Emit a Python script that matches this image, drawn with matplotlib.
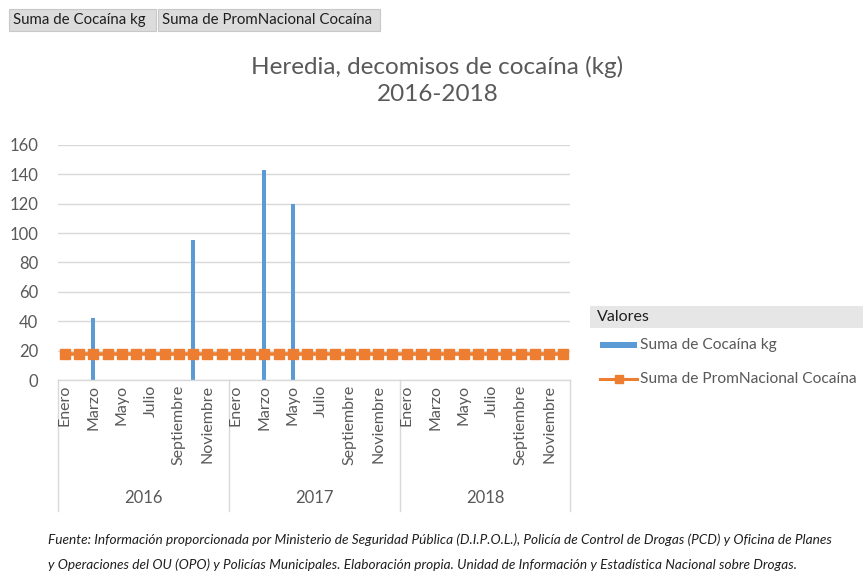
import numpy as np
import matplotlib.pyplot as plt
from matplotlib.patches import Rectangle
from matplotlib.lines import Line2D

# ----------------------------------------------------------
# Datos
# ----------------------------------------------------------

ANIOS = ["2016", "2017", "2018"]

MESES = [
    "Enero", "Febrero", "Marzo", "Abril", "Mayo", "Junio",
    "Julio", "Agosto", "Septiembre", "Octubre", "Noviembre", "Diciembre",
]

COCAINA_KG = [
    0, 0, 42, 0, 0, 0, 0, 0, 0, 95, 0, 0,
    0, 0, 143, 0, 120, 0, 0, 0, 0, 0, 0, 0,
    0, 0, 0, 0, 0, 0, 0, 0, 0, 0, 0, 0,
]

PROM_NACIONAL = [
    17.7, 17.7, 17.7, 17.7, 17.7, 17.7, 17.7, 17.7, 17.7, 17.7, 17.7, 17.7,
    17.7, 17.7, 17.7, 17.7, 17.7, 17.7, 17.7, 17.7, 17.7, 17.7, 17.7, 17.7,
    17.7, 17.7, 17.7, 17.7, 17.7, 17.7, 17.7, 17.7, 17.7, 17.7, 17.7, 17.7,
]

Y_TICKS = [0, 20, 40, 60, 80, 100, 120, 140, 160]

AZUL = "#5B9BD5"
NARANJA = "#ED7D31"
GRIS_TXT = "#595959"
GRIS_LIN = "#D9D9D9"

plt.rcParams["font.family"] = ["Lato", "DejaVu Sans"]

# ----------------------------------------------------------
# Figura
# ----------------------------------------------------------

fig = plt.figure(figsize=(8.63, 5.75), dpi=100)
ax = fig.add_axes([0.067, 0.339, 0.594, 0.409])

n = len(COCAINA_KG)
x = np.arange(n)

cocaina = np.array(COCAINA_KG, dtype=float)
mask = cocaina > 0
ax.bar(x[mask], cocaina[mask], width=0.28, color=AZUL, zorder=2)

ax.plot(
    x, PROM_NACIONAL,
    color=NARANJA, linewidth=2.6,
    marker="s", markersize=6.5,
    zorder=3,
)

ax.set_xlim(-0.5, n - 0.5)
ax.set_ylim(0, 160)
ax.set_yticks(Y_TICKS)
ax.tick_params(axis="y", length=0, labelsize=12, labelcolor=GRIS_TXT, pad=14)
ax.tick_params(axis="x", length=0, labelbottom=False)
ax.grid(axis="y", color=GRIS_LIN, linewidth=1, zorder=0)

for s in ["top", "right", "left", "bottom"]:
    ax.spines[s].set_visible(False)

# eje de categorias de dos niveles
trans = ax.get_xaxis_transform()
ax.plot([-0.5, n - 0.5], [0, 0], color=GRIS_LIN, lw=1,
        transform=trans, clip_on=False)

for k in range(len(ANIOS) + 1):
    xb = -0.5 + 12 * k
    ax.plot([xb, xb], [0, -0.555], color=GRIS_LIN, lw=1,
            transform=trans, clip_on=False)

for i in range(n):
    if i % 2 == 0:
        ax.text(i, -0.02, MESES[i % 12], rotation=90,
                ha="center", va="top", fontsize=11.5,
                color=GRIS_TXT, transform=trans)

for k, anio in enumerate(ANIOS):
    ax.text(12 * k + 5.5, -0.5, anio, ha="center", va="center",
            fontsize=12, color=GRIS_TXT, transform=trans)

# ----------------------------------------------------------
# Titulo
# ----------------------------------------------------------

fig.text(0.507, 0.86, "Heredia, decomisos de cocaína (kg)\n2016-2018",
         ha="center", va="center", fontsize=17.5, color=GRIS_TXT,
         linespacing=1.3)

# ----------------------------------------------------------
# Botones de campo
# ----------------------------------------------------------

def boton(x0, ancho, texto):
    fig.patches.append(Rectangle(
        (x0 / 863, 1 - 31 / 575), ancho / 863, 22 / 575,
        transform=fig.transFigure, facecolor="#DCDCDC",
        edgecolor="#C8C8C8", linewidth=0.8,
    ))
    fig.text((x0 + 4) / 863, 1 - 20 / 575, texto, ha="left",
             va="center", fontsize=10.8, color="#1F1F1F")

boton(9, 147, "Suma de Cocaína kg")
boton(158, 222, "Suma de PromNacional Cocaína")

# ----------------------------------------------------------
# Leyenda
# ----------------------------------------------------------

fig.patches.append(Rectangle(
    (590 / 863, 1 - 328 / 575), 273 / 863, 22 / 575,
    transform=fig.transFigure, facecolor="#E6E6E6", edgecolor="none",
))
fig.text(597 / 863, 1 - 317 / 575, "Valores", ha="left", va="center",
         fontsize=11.5, color="#1F1F1F")

fig.patches.append(Rectangle(
    (600 / 863, 1 - 348 / 575), 37 / 863, 6 / 575,
    transform=fig.transFigure, facecolor=AZUL, edgecolor="none",
))
fig.text(640 / 863, 1 - 345 / 575, "Suma de Cocaína kg", ha="left",
         va="center", fontsize=11.2, color=GRIS_TXT)

fig.lines.append(Line2D(
    [600 / 863, 637 / 863], [1 - 379 / 575, 1 - 379 / 575],
    transform=fig.transFigure, color=NARANJA, linewidth=2.2,
))
fig.lines.append(Line2D(
    [618.5 / 863], [1 - 379 / 575], transform=fig.transFigure,
    color=NARANJA, marker="s", markersize=6, linestyle="none",
))
fig.text(640 / 863, 1 - 379 / 575, "Suma de PromNacional Cocaína",
         ha="left", va="center", fontsize=11.2, color=GRIS_TXT)

# ----------------------------------------------------------
# Fuente
# ----------------------------------------------------------

fig.text(48 / 863, 1 - 540 / 575,
         "Fuente: Información proporcionada por Ministerio de Seguridad Pública "
         "(D.I.P.O.L.), Policía de Control de Drogas (PCD) y Oficina de Planes",
         ha="left", va="center", fontsize=9.8, style="italic", color="#1F1F1F")
fig.text(48 / 863, 1 - 565 / 575,
         "y Operaciones del OU (OPO) y Policías Municipales. Elaboración propia. "
         "Unidad de Información y Estadística Nacional sobre Drogas.",
         ha="left", va="center", fontsize=9.8, style="italic", color="#1F1F1F")

fig.savefig("out.png", dpi=100)
plt.close(fig)
